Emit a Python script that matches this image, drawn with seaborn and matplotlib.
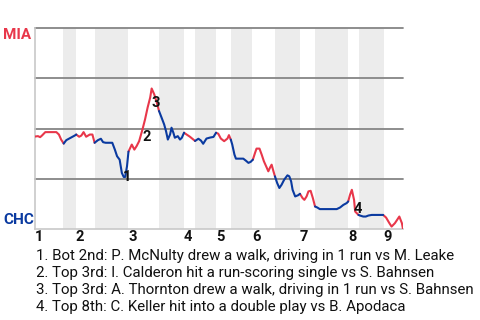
import matplotlib
matplotlib.use("Agg")
import matplotlib.pyplot as plt
import seaborn as sns
import pandas as pd

sns.set_theme(style="white")
plt.rcParams['font.family'] = ['Roboto', 'DejaVu Sans']

# ---- data (play position 0..100 across the game, MIA win probability %) ----
play = [0, 0.8, 1.4, 1.9, 2.8, 5.8, 6.5, 7.1, 7.8, 8.5, 9.7, 10.8, 11.2, 12.0, 12.6, 13.2,
        13.9, 14.9, 15.6, 16.2, 17.1, 17.9, 18.5, 19.2, 21.0, 21.7, 22.3, 23.0, 23.6, 24.1,
        24.5, 25.0, 25.4, 26.3, 27.0, 27.6, 28.3, 29.2, 29.9, 30.6, 31.3, 31.7, 32.4, 33.1,
        33.7, 34.4, 35.1, 35.6, 36.1, 36.7, 37.1, 37.6, 38.0, 38.8, 39.4, 39.9, 40.5, 41.2,
        42.1, 43.5, 44.4, 45.1, 45.7, 46.6, 47.6, 48.5, 49.2, 49.8, 50.5, 51.4, 52.3, 52.7,
        53.2, 53.6, 54.2, 54.6, 56.6, 57.3, 58.0, 58.6, 59.2, 59.8, 60.2, 61.0, 61.6, 62.2,
        63.0, 63.4, 63.9, 64.3, 64.8, 65.2, 65.8, 66.4, 67.0, 67.7, 68.6, 69.1, 69.6, 70.0,
        70.7, 71.5, 72.0, 72.7, 73.2, 73.8, 74.3, 74.9, 75.5, 76.1, 76.7, 77.4, 82.0, 82.9,
        83.8, 84.7, 85.1, 85.6, 86.1, 86.7, 87.0, 87.9, 88.3, 89.2, 89.9, 90.6, 91.5, 94.6,
        95.4, 96.3, 96.9, 97.8, 99.0, 99.7, 100.0]
mia_wp = [46, 46.2, 45.7, 46.5, 48.2, 48.2, 47, 44.5, 42.5, 44.2, 45.4, 46.5, 47, 45.9, 46.5, 48.2,
          45.9, 47, 47, 42.9, 44.2, 44.9, 43.2, 42.9, 42.9, 39.5, 36.2, 34.5, 27.9, 25.9,
          25.9, 31.2, 38.5, 42, 39.5, 41.2, 43.7, 49.5, 54.5, 60.4, 65.4, 69.9, 67, 62.9,
          58.7, 55.4, 52, 48.7, 44.5, 47, 50.4, 47.9, 45.4, 46.2, 44.5, 45.4, 47.9, 47,
          45.9, 43.8, 44.9, 44, 42.4, 45, 45.5, 45.8, 47.9, 47.4, 45, 43.7, 45, 46.7,
          44.5, 42, 37, 35, 35, 34, 32.9, 33.4, 34.5, 37.9, 40, 40, 37, 33.7,
          30.4, 28.7, 30.7, 32, 28.7, 26.2, 22.9, 20.4, 22, 24.5, 26.7, 26.2, 23.7, 19.5,
          16.2, 16.8, 17.5, 15.4, 14.5, 16.2, 18.7, 19, 15.4, 11.2, 10.7, 9.9, 9.9, 10.7,
          12, 12.9, 13.7, 17, 19.5, 14.5, 8.7, 7, 6.7, 6.2, 6.2, 6.7, 7, 7,
          5.7, 2.9, 1.2, 2.9, 6.2, 2.9, 0]
half_starts = [0, 7.6, 11.1, 16.3, 25.3, 33.7, 40.5, 43.5, 49.2, 53.3, 59.0, 65.2,
               72.0, 76.1, 85.1, 88.0, 94.8]
game_end = 100
inning_labels = ['1', '2', '3', '4', '5', '6', '7', '8', '9']
mark_labels = ['1', '2', '3', '4']
mark_x = [25.0, 30.4, 32.9, 87.8]
mark_y = [26, 46, 62.5, 10]
events = ["1. Bot 2nd: P. McNulty drew a walk, driving in 1 run vs M. Leake",
          "2. Top 3rd: I. Calderon hit a run-scoring single vs S. Bahnsen",
          "3. Top 3rd: A. Thornton drew a walk, driving in 1 run vs S. Bahnsen",
          "4. Top 8th: C. Keller hit into a double play vs B. Apodaca"]
team_top, team_bottom = "MIA", "CHC"

RED = '#e8374a'
BLUE = '#0a3aa0'

# ---- build coloured runs (top halves red, bottom halves blue) ----
bounds = half_starts + [game_end]
def side_of(x):
    for k in range(len(half_starts)):
        if bounds[k] <= x < bounds[k + 1]:
            return 'top' if k % 2 == 0 else 'bot'
    return 'top'

rows = []
run = 0
prev = None
for i in range(len(play) - 1):
    s = side_of((play[i] + play[i + 1]) / 2)
    if s != prev:
        run += 1
        rows.append((play[i], mia_wp[i], s, run))
        prev = s
    rows.append((play[i + 1], mia_wp[i + 1], s, run))
df = pd.DataFrame(rows, columns=['play', 'wp', 'side', 'run'])

fig = plt.figure(figsize=(4.8, 3.2), dpi=100)
ax = fig.add_axes([35 / 480, 1 - 229 / 320, 368 / 480, 201 / 320])

for k in range(1, len(half_starts), 2):
    ax.axvspan(bounds[k], bounds[k + 1], color='#ececec', lw=0, zorder=0)
for g in [25, 50, 75, 100]:
    ax.axhline(g, color='#858585', lw=1.3, zorder=1, clip_on=False)

sns.lineplot(data=df, x='play', y='wp', hue='side', units='run', estimator=None,
             sort=False, palette={'top': RED, 'bot': BLUE}, legend=False,
             linewidth=1.5, ax=ax, zorder=3)

for t, x, y in zip(mark_labels, mark_x, mark_y):
    ax.text(x, y, t, ha='center', va='center', fontsize=10.5, fontweight='bold',
            color='#111111', zorder=4)

ax.set_xlim(0, game_end)
ax.set_ylim(0, 100)
ax.set_yticks([])
ax.set_xticks(half_starts[::2])
ax.set_xticklabels(inning_labels, fontsize=10.5, fontweight='bold', color='#111111', ha='left')
ax.tick_params(axis='x', length=0, pad=1)
for lbl in ax.get_xticklabels():
    lbl.set_x(lbl.get_position()[0])
ax.set_xlabel('')
ax.set_ylabel('')
for sp in ['top', 'right']:
    ax.spines[sp].set_visible(False)
for sp in ['left', 'bottom']:
    ax.spines[sp].set_color('#c8c8c8')
    ax.spines[sp].set_linewidth(1.2)

fig.text(3 / 480, 1 - 35 / 320, team_top, color=RED, fontsize=11, fontweight='bold',
         ha='left', va='center')
fig.text(3 / 480, 1 - 220 / 320, team_bottom, color=BLUE, fontsize=11, fontweight='bold',
         ha='left', va='center')

for i, e in enumerate(events):
    fig.text(36 / 480, 1 - (256 + 17 * i) / 320, e, fontsize=10.8, color='#111111',
             ha='left', va='center')

fig.savefig('out.png', dpi=100)
